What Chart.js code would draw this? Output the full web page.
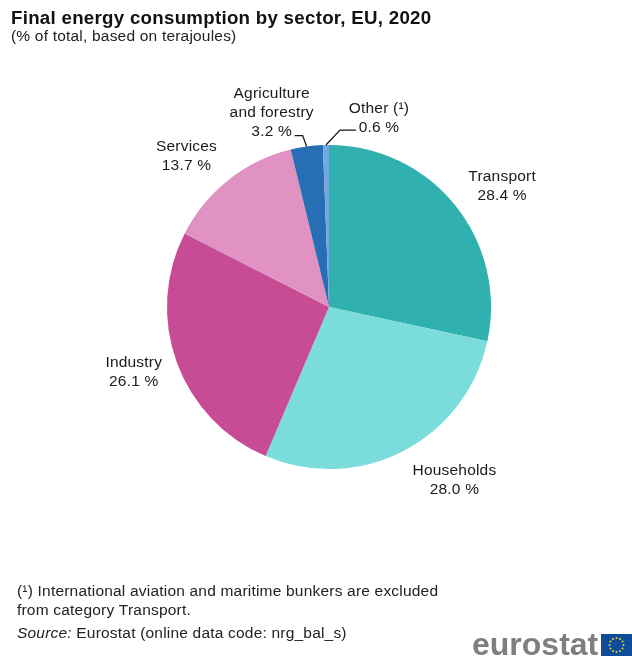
<!DOCTYPE html>
<html>
<head>
<meta charset="utf-8">
<title>Final energy consumption by sector, EU, 2020</title>
<script src="https://cdn.jsdelivr.net/npm/chart.js@4"></script>
<style>
    html, body { margin: 0; padding: 0; background: #fff; }
    canvas { display: block; }
</style>
</head>
<body>
<canvas id="energyChart" width="632" height="656"></canvas>
<script>
// Chart data
const sectors = ['Transport', 'Households', 'Industry', 'Services', 'Agriculture and forestry', 'Other (¹)'];
const shares = [28.4, 28.0, 26.1, 13.7, 3.2, 0.6];
const sliceColors = ['#31b0b0', '#7bdcdc', '#c84b96', '#e093c2', '#286eb4', '#71a8df'];

// Label lines per slice, the last line is always the value
const labelLines = [['Transport'], ['Households'], ['Industry'], ['Services'], ['Agriculture', 'and forestry'], ['Other (¹)']];
// Shift of each label from the outer middle of its slice
const labelShift = [[47, -19], [51, 29], [-43, 10], [-42, -24], [-35, -34], [53, -27]];

const FONT = '"Liberation Sans", Arial, sans-serif';
const LINE_HEIGHT = 19;

// Slice labels and the two leader lines
const sliceLabels = {
    id: 'sliceLabels',
    afterDatasetsDraw(chart) {
        const ctx = chart.ctx;
        const arcs = chart.getDatasetMeta(0).data;
        ctx.save();
        ctx.fillStyle = '#1a1a1a';
        ctx.font = '15.5px ' + FONT;
        ctx.letterSpacing = '0.2px';
        ctx.textAlign = 'center';
        ctx.textBaseline = 'middle';
        arcs.forEach((arc, i) => {
            const mid = (arc.startAngle + arc.endAngle) / 2;
            const px = arc.x + arc.outerRadius * Math.cos(mid) + labelShift[i][0];
            const py = arc.y + arc.outerRadius * Math.sin(mid) + labelShift[i][1];
            const lines = labelLines[i].concat(shares[i].toFixed(1) + ' %');
            lines.forEach((line, n) => {
                ctx.fillText(line, px, py + (n - (lines.length - 1) / 2) * LINE_HEIGHT);
            });
        });

        // leaders for the two thin slices
        ctx.strokeStyle = '#1a1a1a';
        ctx.lineWidth = 1.3;
        [[arcs[4], -4, -11, -12], [arcs[5], 14, -15, 30]].forEach(([arc, bendX, bendY, endX]) => {
            const mid = (arc.startAngle + arc.endAngle) / 2;
            const sx = arc.x + arc.outerRadius * Math.cos(mid);
            const sy = arc.y + arc.outerRadius * Math.sin(mid);
            ctx.beginPath();
            ctx.moveTo(sx, sy);
            ctx.lineTo(sx + bendX, sy + bendY);
            ctx.lineTo(sx + endX, sy + bendY);
            ctx.stroke();
        });
        ctx.restore();
    }
};

// Heading, footnotes and the eurostat mark
const pageText = {
    id: 'pageText',
    afterDraw(chart) {
        const ctx = chart.ctx;
        ctx.save();
        ctx.textAlign = 'left';
        ctx.textBaseline = 'alphabetic';
        ctx.fillStyle = '#111';
        ctx.font = 'bold 18.7px ' + FONT;
        ctx.letterSpacing = '0.28px';
        ctx.fillText('Final energy consumption by sector, EU, 2020', 11, 24);
        ctx.fillStyle = '#222';
        ctx.font = '15.5px ' + FONT;
        ctx.letterSpacing = '0.2px';
        ctx.fillText('(% of total, based on terajoules)', 11, 41);

        ctx.fillText('(¹) International aviation and maritime bunkers are excluded', 17, 596);
        ctx.fillText('from category Transport.', 17, 615);
        ctx.font = 'italic 15.5px ' + FONT;
        ctx.fillText('Source:', 17, 638);
        const w = ctx.measureText('Source: ').width;
        ctx.font = '15.5px ' + FONT;
        ctx.fillText('Eurostat (online data code: nrg_bal_s)', 17 + w, 638);

        ctx.letterSpacing = '0px';
        ctx.fillStyle = '#7f7f7f';
        ctx.font = 'bold 32px ' + FONT;
        ctx.fillText('eurostat', 472, 655);

        // flag
        ctx.fillStyle = '#0f4c9c';
        ctx.fillRect(601, 634, 31, 22);
        ctx.fillStyle = '#e2d62c';
        for (let s = 0; s < 12; s++) {
            const a = s * Math.PI / 6;
            ctx.beginPath();
            ctx.arc(616.5 + 7 * Math.cos(a), 645 + 7 * Math.sin(a), 1, 0, 2 * Math.PI);
            ctx.fill();
        }
        ctx.restore();
    }
};

new Chart(document.getElementById('energyChart').getContext('2d'), {
    type: 'pie',
    data: {
        labels: sectors,
        datasets: [{
            data: shares,
            backgroundColor: sliceColors,
            borderWidth: 0
        }]
    },
    options: {
        responsive: false,
        animation: false,
        layout: { padding: { left: 167, right: 141, top: 145, bottom: 187 } },
        plugins: {
            legend: { display: false },
            tooltip: { enabled: false }
        }
    },
    plugins: [sliceLabels, pageText]
});
</script>
</body>
</html>
